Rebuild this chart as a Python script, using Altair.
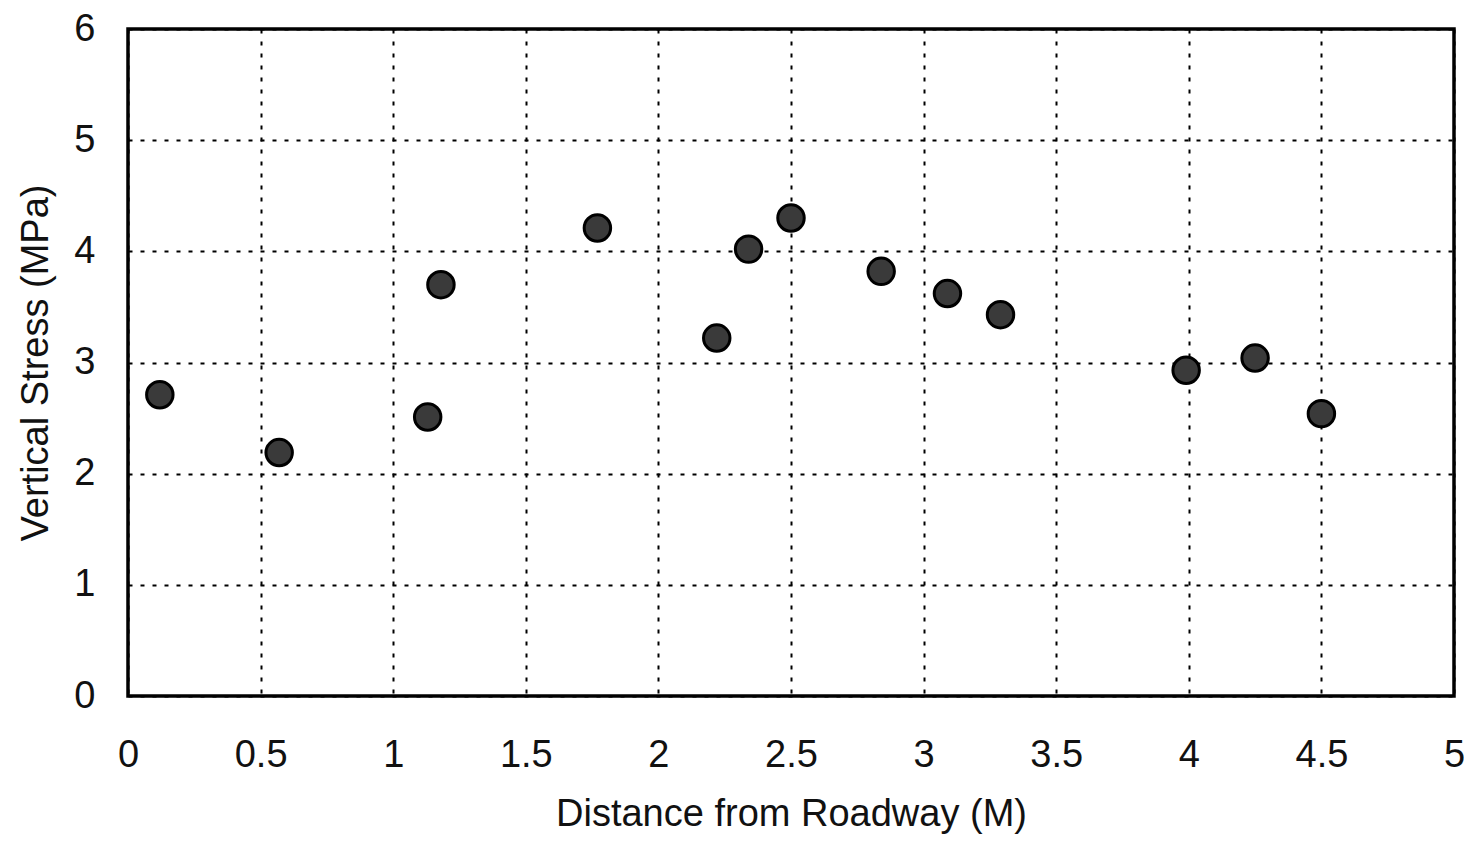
import altair as alt
import pandas as pd

distance = [0.12, 0.57, 1.13, 1.18, 1.77, 2.22, 2.34, 2.50, 2.84, 3.09, 3.29, 3.99, 4.25, 4.50]
stress = [2.71, 2.19, 2.51, 3.70, 4.21, 3.22, 4.02, 4.30, 3.82, 3.62, 3.43, 2.93, 3.04, 2.54]

df = pd.DataFrame({"d": distance, "s": stress})

FONT = "Liberation Sans"

chart = alt.Chart(df).mark_circle(
    size=700, color="#3a3a3a", stroke="#000000", strokeWidth=3, opacity=1
).encode(
    x=alt.X("d:Q", scale=alt.Scale(domain=[0, 5], nice=False),
            axis=alt.Axis(title="Distance from Roadway (M)", values=[0, 0.5, 1, 1.5, 2, 2.5, 3, 3.5, 4, 4.5, 5],
                          format="~g", labelPadding=40, titlePadding=21, labelFlush=False)),
    y=alt.Y("s:Q", scale=alt.Scale(domain=[0, 6], nice=False),
            axis=alt.Axis(title="Vertical Stress (MPa)", values=[0, 1, 2, 3, 4, 5, 6],
                          labelPadding=33, titlePadding=18, labelFlush=False)),
).properties(
    width=1326, height=667,
    autosize=alt.AutoSizeParams(type="none"),
    padding={"left": 120, "top": 21, "right": 10, "bottom": 140},
).configure_view(
    stroke="#000000", strokeWidth=3.5
).configure_axis(
    grid=True, gridColor="#000000", gridDash=[4, 8], gridWidth=2, gridOpacity=1,
    domain=False, ticks=False,
    labelFont=FONT, labelFontSize=38, labelColor="#111111",
    titleFont=FONT, titleFontSize=38, titleColor="#111111", titleFontWeight="normal",
)

chart.save("out.html", embed_options={"renderer": "svg", "actions": False})
